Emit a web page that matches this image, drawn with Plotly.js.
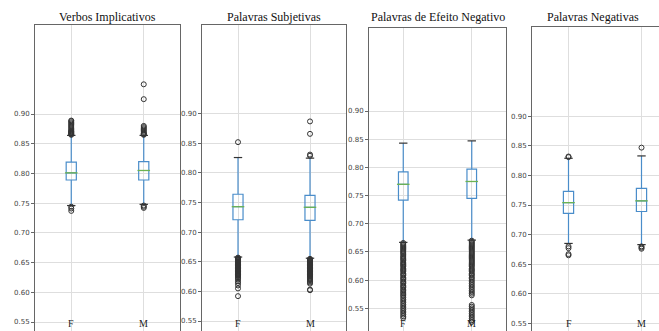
<!DOCTYPE html>
<html>
<head>
<meta charset="utf-8">
<script src="https://cdn.plot.ly/plotly-3.0.1.min.js"></script>
<style>
html, body { margin: 0; padding: 0; overflow: hidden; background: #fff; }
#chart { width: 700px; height: 345px; }
</style>
</head>
<body>
<div id="chart"></div>
<script>
// ---- data ----
const groups = ['F', 'M'];
const titles = ['Verbos Implicativos', 'Palavras Subjetivas', 'Palavras de Efeito Negativo', 'Palavras Negativas'];
const tickVals = [0.55, 0.60, 0.65, 0.70, 0.75, 0.80, 0.85, 0.90];
const tickText = ['0.55', '0.60', '0.65', '0.70', '0.75', '0.80', '0.85', '0.90'];

// per panel: [F, M]
const q1 = [[0.789, 0.789], [0.721, 0.720], [0.742, 0.745], [0.736, 0.739]];
const median = [[0.801, 0.805], [0.743, 0.742], [0.770, 0.775], [0.754, 0.757]];
const q3 = [[0.819, 0.820], [0.764, 0.762], [0.792, 0.797], [0.773, 0.778]];
const lowerWhisker = [[0.746, 0.748], [0.658, 0.656], [0.667, 0.671], [0.685, 0.683]];
const upperWhisker = [[0.864, 0.864], [0.826, 0.825], [0.843, 0.847], [0.829, 0.833]];

const fliersVI_F = [0.865, 0.866, 0.867, 0.868, 0.869, 0.870, 0.871, 0.872, 0.874, 0.876, 0.878, 0.880, 0.882, 0.884, 0.886, 0.888, 0.889, 0.744, 0.741, 0.737];
const fliersVI_M = [0.865, 0.866, 0.867, 0.868, 0.870, 0.872, 0.874, 0.876, 0.878, 0.880, 0.925, 0.950, 0.746, 0.744, 0.742];
const fliersPS_F = [0.852, 0.657, 0.656, 0.655, 0.654, 0.653, 0.652, 0.651, 0.650, 0.649, 0.648, 0.647, 0.646, 0.645, 0.644, 0.643, 0.642, 0.641, 0.640, 0.639, 0.638, 0.637, 0.636, 0.635, 0.634, 0.633, 0.632, 0.631, 0.630, 0.629, 0.628, 0.627, 0.626, 0.624, 0.622, 0.620, 0.617, 0.614, 0.610, 0.605, 0.592];
const fliersPS_M = [0.829, 0.831, 0.866, 0.887, 0.655, 0.654, 0.653, 0.652, 0.651, 0.650, 0.649, 0.648, 0.647, 0.646, 0.645, 0.644, 0.643, 0.642, 0.641, 0.640, 0.639, 0.638, 0.637, 0.636, 0.635, 0.634, 0.633, 0.632, 0.631, 0.630, 0.629, 0.628, 0.627, 0.626, 0.625, 0.623, 0.621, 0.619, 0.617, 0.615, 0.613, 0.603, 0.602];
const fliersEN_F = [0.666, 0.664, 0.662, 0.660, 0.658, 0.656, 0.654, 0.652, 0.650, 0.648, 0.646, 0.643, 0.641, 0.639, 0.637, 0.635, 0.632, 0.630, 0.628, 0.626, 0.624, 0.621, 0.619, 0.617, 0.615, 0.612, 0.610, 0.608, 0.605, 0.603, 0.601, 0.598, 0.596, 0.594, 0.591, 0.589, 0.587, 0.584, 0.582, 0.579, 0.577, 0.574, 0.572, 0.569, 0.566, 0.563, 0.560, 0.557, 0.554, 0.551, 0.548, 0.545, 0.542, 0.539, 0.536, 0.533];
const fliersEN_M = [0.670, 0.668, 0.666, 0.664, 0.662, 0.660, 0.658, 0.656, 0.654, 0.652, 0.650, 0.648, 0.646, 0.644, 0.642, 0.640, 0.638, 0.636, 0.634, 0.632, 0.630, 0.628, 0.626, 0.624, 0.621, 0.619, 0.617, 0.615, 0.612, 0.610, 0.608, 0.605, 0.603, 0.600, 0.597, 0.594, 0.591, 0.588, 0.585, 0.582, 0.579, 0.576, 0.573, 0.556, 0.553, 0.550, 0.547, 0.544, 0.541, 0.538, 0.535, 0.532, 0.529, 0.526];
const fliersPN_F = [0.831, 0.832, 0.680, 0.677, 0.667, 0.665];
const fliersPN_M = [0.847, 0.680, 0.678, 0.676];

const fliers = [[fliersVI_F, fliersVI_M], [fliersPS_F, fliersPS_M], [fliersEN_F, fliersEN_M], [fliersPN_F, fliersPN_M]];
const yRanges = [[0.5231, 1.0498], [0.5213, 1.0498], [0.4974, 1.0472], [0.5251, 1.051]];

// ---- layout geometry (pixels) ----
const W = 700, H = 345;
const frames = [
  {l: 35, r: 180, t: 25, b: 338},
  {l: 202, r: 346, t: 25, b: 338},
  {l: 369, r: 506, t: 28, b: 338},
  {l: 532, r: 678, t: 27, b: 338}
];

const boxColor = '#4a8dca';
const medColor = '#6cb352';
const data = [];
const layout = {
  width: W, height: H,
  margin: {l: 0, r: 0, t: 0, b: 0},
  paper_bgcolor: '#fff', plot_bgcolor: '#fff',
  showlegend: false,
  annotations: []
};

frames.forEach((f, i) => {
  const n = i === 0 ? '' : String(i + 1);
  const xa = 'x' + n, ya = 'y' + n;
  layout['xaxis' + n] = {
    domain: [f.l / W, f.r / W],
    anchor: ya,
    range: [-0.5, 1.5],
    tickvals: [0, 1],
    showticklabels: false,
    ticks: '',
    showgrid: true, gridcolor: '#dedede', gridwidth: 1,
    zeroline: false,
    showline: true, mirror: true, linecolor: '#666', linewidth: 1,
    fixedrange: true
  };
  layout['yaxis' + n] = {
    domain: [1 - f.b / H, 1 - f.t / H],
    anchor: xa,
    range: yRanges[i],
    tickvals: tickVals, ticktext: tickText,
    ticks: 'outside', ticklen: 3, tickcolor: '#666',
    tickfont: {family: 'DejaVu Sans', size: 7, color: '#444'},
    showgrid: true, gridcolor: '#dedede', gridwidth: 1,
    zeroline: false,
    showline: true, mirror: true, linecolor: '#666', linewidth: 1,
    fixedrange: true
  };
  data.push({
    type: 'box', xaxis: xa, yaxis: ya,
    x: [0, 1],
    q1: q1[i], median: median[i], q3: q3[i],
    lowerfence: lowerWhisker[i], upperfence: upperWhisker[i],
    width: 0.14, whiskerwidth: 0,
    fillcolor: 'rgba(0,0,0,0)',
    line: {color: boxColor, width: 1.2},
    boxpoints: false, hoverinfo: 'skip'
  });
  // medians
  data.push({
    type: 'scatter', mode: 'markers', xaxis: xa, yaxis: ya,
    x: [0, 1], y: median[i],
    marker: {symbol: 'line-ew', size: 9, line: {color: medColor, width: 1.3}},
    hoverinfo: 'skip'
  });
  // caps
  data.push({
    type: 'scatter', mode: 'markers', xaxis: xa, yaxis: ya,
    x: [0, 1, 0, 1], y: lowerWhisker[i].concat(upperWhisker[i]),
    marker: {symbol: 'line-ew', size: 6, line: {color: '#333', width: 1.2}},
    hoverinfo: 'skip'
  });
  // fliers
  groups.forEach((g, gi) => {
    data.push({
      type: 'scatter', mode: 'markers', xaxis: xa, yaxis: ya,
      x: fliers[i][gi].map(() => gi), y: fliers[i][gi],
      marker: {symbol: 'circle-open', size: 5, color: '#333', line: {width: 1}},
      hoverinfo: 'skip'
    });
    layout.annotations.push({
      xref: xa, yref: 'paper', x: gi, y: 1 - 331 / H,
      xanchor: 'center', yanchor: 'bottom',
      text: g, showarrow: false,
      font: {family: 'Liberation Serif', size: 10, color: '#222'}
    });
  });
  layout.annotations.push({
    xref: 'paper', yref: 'paper',
    x: (i === 3 ? 593 : (f.l + f.r) / 2) / W, y: 1 - 17 / H,
    xanchor: 'center', yanchor: 'middle',
    text: titles[i], showarrow: false,
    font: {family: 'Liberation Serif', size: 12, color: '#111'}
  });
});

Plotly.newPlot('chart', data, layout, {displayModeBar: false, staticPlot: true});
</script>
</body>
</html>
